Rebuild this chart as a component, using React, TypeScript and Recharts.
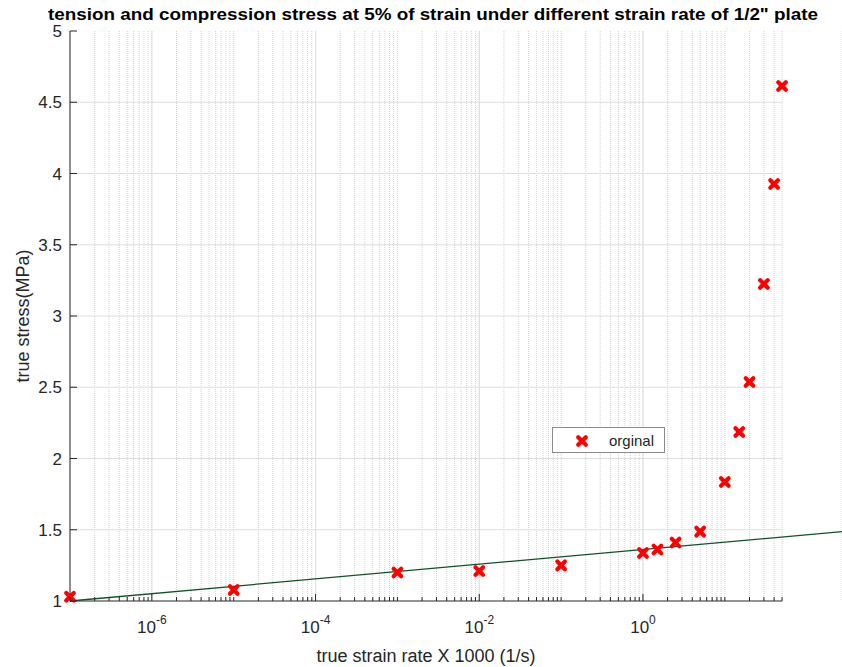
import { ComposedChart, Scatter, XAxis, YAxis, CartesianGrid, ReferenceLine, Legend } from 'recharts'

// measured strain rate (x1000, 1/s) and true stress (MPa) at 5% strain
const RATE = [1e-7, 1e-5, 1e-3, 1e-2, 1e-1, 1, 1.5, 2.5, 5, 10, 15, 20, 30, 40, 50]
const STRESS = [1.03, 1.077, 1.2, 1.21, 1.25, 1.337, 1.362, 1.41, 1.487, 1.835, 2.186, 2.537, 3.225, 3.926, 4.614]

// fitted trend line, runs past the last sample to the figure edge
const FIT_RATE = [1e-7, 270]
const FIT_STRESS = [1.0, 1.487]

const DECADES = [-7, -6, -5, -4, -3, -2, -1, 0, 1]
const MULTIPLIERS = [1, 2, 3, 4, 5, 6, 7, 8, 9]
const LABELED_DECADES = [-6, -4, -2, 0]
const X_MAX_TICK = 50
const Y_TICKS = [1, 1.5, 2, 2.5, 3, 3.5, 4, 4.5, 5]
const Y_GRID = [1.5, 2, 2.5, 3, 3.5, 4, 4.5]

const X_TICKS = DECADES.flatMap((d) => MULTIPLIERS.map((m) => m * Math.pow(10, d))).filter(
  (v) => v <= X_MAX_TICK * 1.0001
)
const MAJOR_TICKS = LABELED_DECADES.map((d) => Math.pow(10, d))

const FONT = '"Liberation Sans", Arial, Helvetica, sans-serif'
const TEXT = '#262626'
const RED = '#ff0000'
const FIT_COLOR = '#0f5225'

const points = RATE.map((x, i) => ({ x, y: STRESS[i] }))
const fit = FIT_RATE.map((x, i) => ({ x, y: FIT_STRESS[i] }))

const isMajor = (v: number) => MAJOR_TICKS.some((t) => Math.abs(v / t - 1) < 1e-6)

const XTick = ({ x, y, payload }: any) => {
  const v = payload.value
  const major = isMajor(v)
  const exp = Math.round(Math.log10(v))
  return (
    <g>
      <line x1={x} y1={y} x2={x} y2={y - (major ? 7 : 4)} stroke={TEXT} strokeWidth={1} />
      {major && (
        <text x={x} y={y + 32} textAnchor="middle" fontFamily={FONT} fontSize={17} fill={TEXT}>
          <tspan>10</tspan>
          <tspan dy={-9} fontSize={12}>{exp}</tspan>
        </text>
      )}
    </g>
  )
}

const YTick = ({ x, y, payload }: any) => (
  <g>
    <line x1={x} y1={y} x2={x + 7} y2={y} stroke={TEXT} strokeWidth={1} />
    <text x={x - 8} y={y + 6} textAnchor="end" fontFamily={FONT} fontSize={17} fill={TEXT}>
      {payload.value}
    </text>
  </g>
)

// bold "x" marker; half-arm and stroke kept out of the props Recharts passes in
const ARM = 3.8
const STROKE = 4.2

const Cross = ({ cx, cy }: any) => (
  <path
    d={`M${cx - ARM},${cy - ARM}L${cx + ARM},${cy + ARM}M${cx - ARM},${cy + ARM}L${cx + ARM},${cy - ARM}`}
    stroke={RED}
    strokeWidth={STROKE}
    strokeLinecap="round"
    fill="none"
  />
)

const LegendBox = () => (
  <div
    style={{
      width: 113,
      height: 26,
      boxSizing: 'border-box',
      border: '1px solid #8a8a8a',
      background: '#fff',
      display: 'flex',
      alignItems: 'center',
      fontFamily: FONT,
      fontSize: 15,
      color: TEXT,
    }}
  >
    <svg width={56} height={24}>
      <Cross cx={29} cy={13} />
    </svg>
    <span>orginal</span>
  </div>
)

const App = () => {
  return (
    <div style={{ position: 'absolute', left: 0, top: 0, background: '#fff' }}>
      <ComposedChart width={842} height={667} margin={{ top: 31, right: 0, bottom: 0, left: 0 }}>
        <CartesianGrid horizontal={false} stroke="#d2d2d2" strokeDasharray="1 1" />
        {MAJOR_TICKS.map((v) => (
          <ReferenceLine key={`mx${v}`} x={v} stroke="#dedede" strokeWidth={1} />
        ))}
        {Y_GRID.map((v) => (
          <ReferenceLine
            key={`gy${v}`}
            segment={[
              { x: RATE[0], y: v },
              { x: X_MAX_TICK, y: v },
            ]}
            stroke="#dedede"
            strokeWidth={1}
          />
        ))}
        <ReferenceLine
          segment={[
            { x: RATE[0], y: 1 },
            { x: X_MAX_TICK, y: 1 },
          ]}
          stroke={TEXT}
          strokeWidth={1}
        />
        <XAxis
          dataKey="x"
          type="number"
          scale="log"
          domain={[FIT_RATE[0], FIT_RATE[1]]}
          ticks={X_TICKS}
          interval={0}
          axisLine={false}
          tickLine={false}
          tickSize={0}
          tickMargin={0}
          tick={<XTick />}
          height={66}
        />
        <YAxis
          dataKey="y"
          type="number"
          domain={[1, 5]}
          ticks={Y_TICKS}
          interval={0}
          axisLine={{ stroke: TEXT, strokeWidth: 1 }}
          tickLine={false}
          tickSize={0}
          tickMargin={0}
          tick={<YTick />}
          width={70}
        />
        <Scatter
          data={fit}
          line={{ stroke: FIT_COLOR, strokeWidth: 1.3 }}
          shape={() => <g />}
          legendType="none"
          isAnimationActive={false}
        />
        <Scatter data={points} name="orginal" shape={<Cross />} isAnimationActive={false} />
        <Legend
          layout="vertical"
          align="center"
          verticalAlign="middle"
          wrapperStyle={{ position: 'absolute', left: 552, top: 427, width: 113, height: 26 }}
          content={<LegendBox />}
        />
        <text
          x={433}
          y={20}
          textAnchor="middle"
          fontFamily={FONT}
          fontSize={17}
          fontWeight="bold"
          fill="#000"
          textLength={770}
          lengthAdjust="spacingAndGlyphs"
        >
          tension and compression stress at 5% of strain under different strain rate of 1/2" plate
        </text>
        <text x={426} y={662} textAnchor="middle" fontFamily={FONT} fontSize={18} fill={TEXT}>
          true strain rate X 1000 (1/s)
        </text>
        <text
          x={29}
          y={316}
          textAnchor="middle"
          transform="rotate(-90 29 316)"
          fontFamily={FONT}
          fontSize={18}
          fill={TEXT}
        >
          true stress(MPa)
        </text>
      </ComposedChart>
    </div>
  )
}

export default App
